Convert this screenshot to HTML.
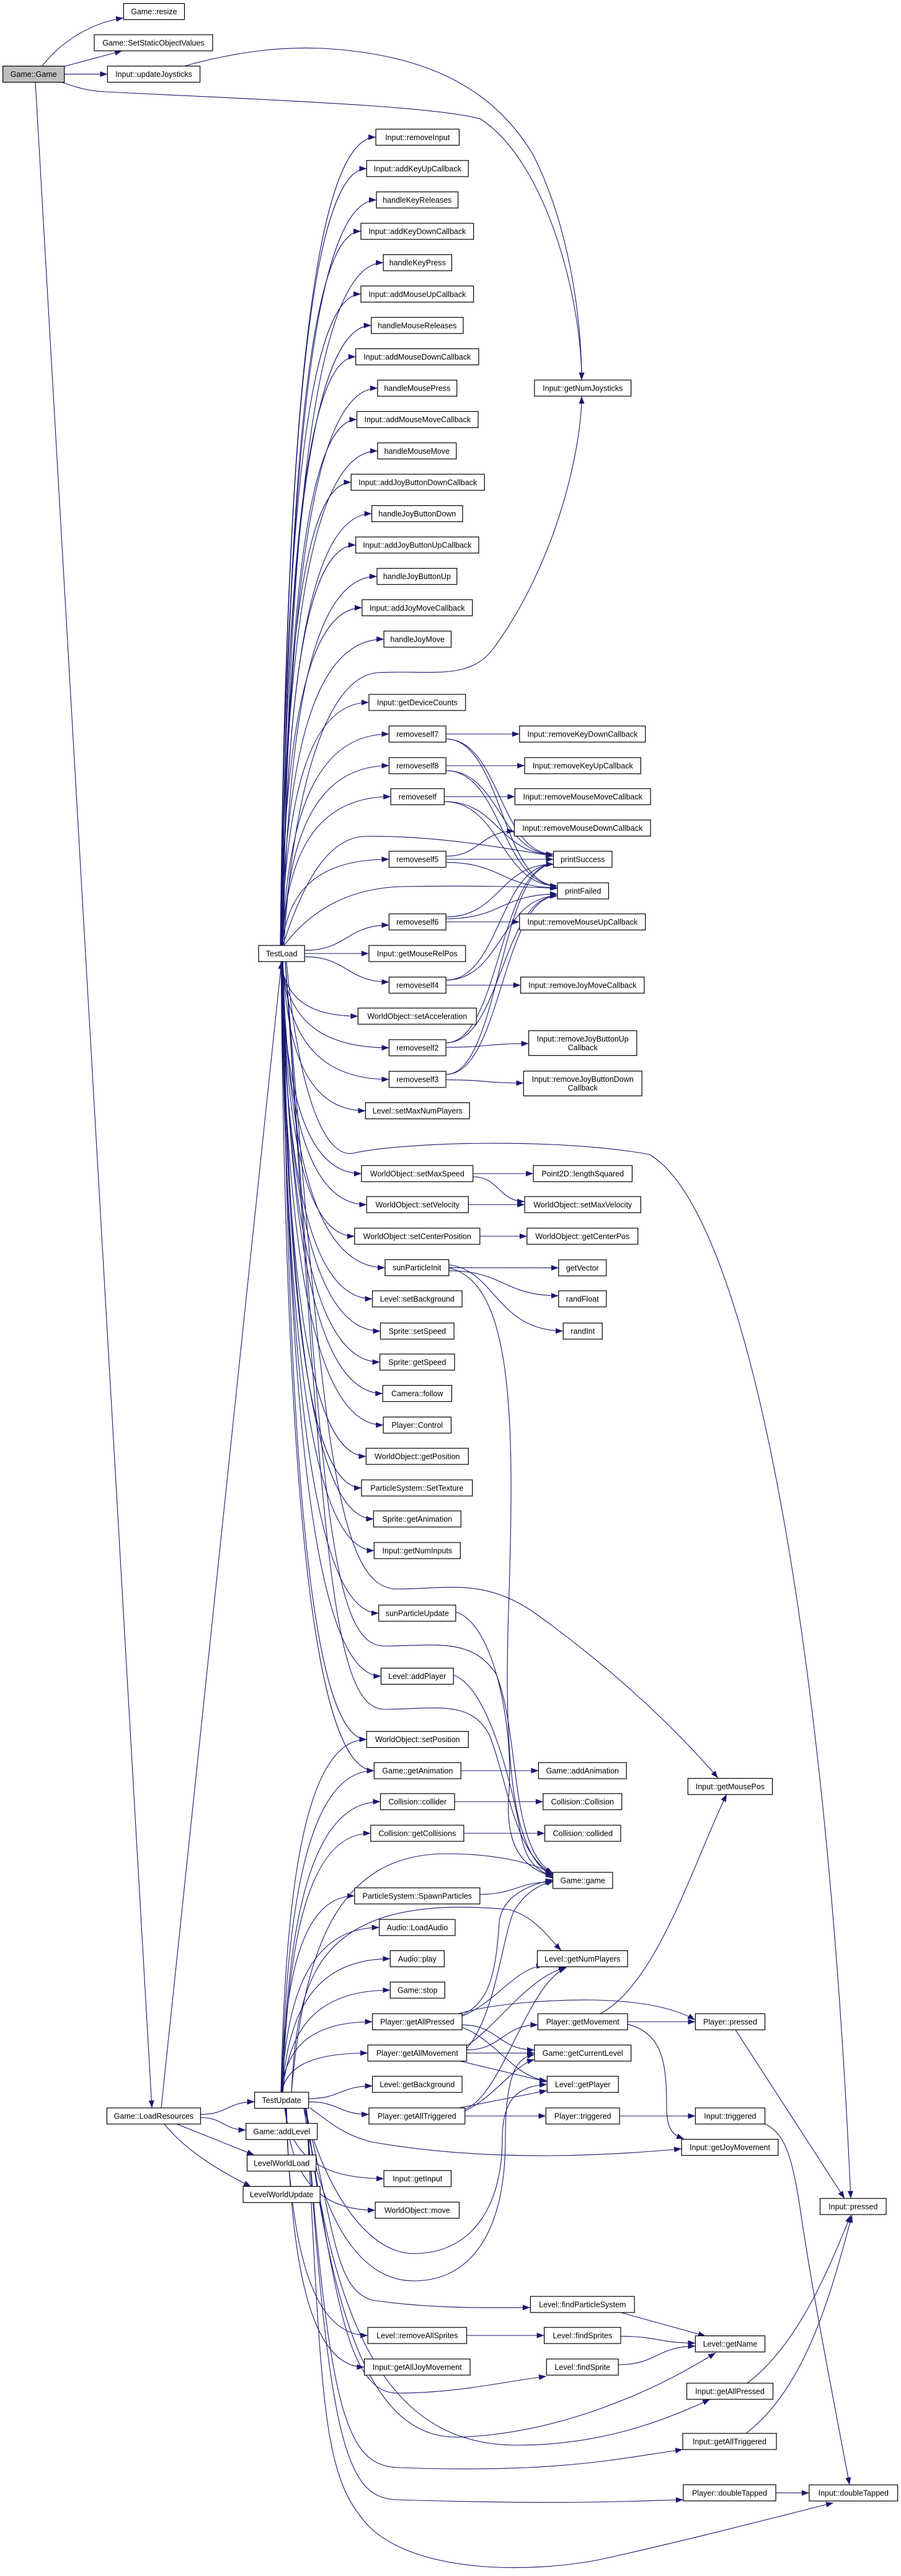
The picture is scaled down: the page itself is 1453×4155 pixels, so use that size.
<!DOCTYPE html>
<html><head><meta charset="utf-8">
<style>
html,body{margin:0;padding:0;background:#fff;}
svg{display:block;}
text{font-family:"Liberation Sans",sans-serif;font-size:12.5px;fill:#000;}
</style></head>
<body>
<svg id="g" xmlns="http://www.w3.org/2000/svg" width="1453" height="4155" viewBox="0 0 1453 4155">
<defs>
<marker id="a" markerUnits="userSpaceOnUse" markerWidth="12" markerHeight="9" refX="12" refY="4.5" orient="auto">
<path d="M0,0 L12,4.5 L0,9 z" fill="#191970"/>
</marker>
</defs>
<g id="edges" fill="none" stroke="#191970" stroke-width="1.1"></g>
<g id="nodes"></g>
</svg>
<script>
var S=1.079;
var N={};
function node(id,label,zx1,zx2,y,h,fill){
  h=h||26;
  var x1=zx1/S,x2=zx2/S;
  N[id]={x1:x1,x2:x2,y1:y,y2:y+h,cx:(x1+x2)/2,cy:y+h/2,label:label,fill:fill||'#fff'};
}
var col=[['Input::removeInput',654,799],['Input::addKeyUpCallback',638,815],['handleKeyReleases',655,797],['Input::addKeyDownCallback',628,824],['handleKeyPress',667,786],['Input::addMouseUpCallback',628,824],['handleMouseReleases',646,806],['Input::addMouseDownCallback',619,833],['handleMousePress',657,795],['Input::addMouseMoveCallback',621,832],['handleMouseMove',657,794],['Input::addJoyButtonDownCallback',611,843],['handleJoyButtonDown',647,805],['Input::addJoyButtonUpCallback',619,833],['handleJoyButtonUp',656,795],['Input::addJoyMoveCallback',630,822],['handleJoyMove',668,785]];
col.forEach(function(c,i){node('c'+i,c[0],c[1],c[2],208.3+50.6*i);});
var L=[
['GG','Game::Game',5,112,106.6,0,'#bfbfbf'],
['resize','Game::resize',215,321,5.6],
['SSOV','Game::SetStaticObjectValues',164,370,56],
['UJ','Input::updateJoysticks',187,348,106.6],
['GNJ','Input::getNumJoysticks',930,1098,613],
['GDC','Input::getDeviceCounts',642,810,1120],
['rs7','removeself7',677,776,1171],
['rs8','removeself8',677,776,1222],
['rs','removeself',680,773,1272],
['RKD','Input::removeKeyDownCallback',904,1123,1171],
['RKU','Input::removeKeyUpCallback',913,1115,1222],
['RMM','Input::removeMouseMoveCallback',896,1132,1272],
['RMD','Input::removeMouseDownCallback',895,1132,1322.6],
['PS','printSuccess',963,1065,1373],
['rs5','removeself5',677,776,1373],
['PF','printFailed',970,1059,1424],
['rs6','removeself6',677,776,1474],
['RMU','Input::removeMouseUpCallback',904,1123,1474],
['TL','TestLoad',450,530,1525],
['GMRP','Input::getMouseRelPos',642,810,1525],
['rs4','removeself4',677,776,1576],
['RJM','Input::removeJoyMoveCallback',906,1121,1576],
['SA','WorldObject::setAcceleration',623,829,1626],
['rs2','removeself2',677,776,1677],
['RJBU','Input::removeJoyButtonUp|Callback',920,1108,1662.5,40],
['rs3','removeself3',677,776,1728],
['RJBD','Input::removeJoyButtonDown|Callback',911,1117,1727.6,40],
['SMNP','Level::setMaxNumPlayers',636,817,1778.6],
['SMS','WorldObject::setMaxSpeed',629,823,1880],
['LS','Point2D::lengthSquared',928,1100,1880],
['SV','WorldObject::setVelocity',638,815,1930],
['SMV','WorldObject::setMaxVelocity',913,1115,1930],
['SCP','WorldObject::setCenterPosition',617,835,1981],
['GCP','WorldObject::getCenterPos',917,1110,1981],
['SPI','sunParticleInit',670,781,2031.7],
['GV','getVector',972,1055,2032],
['SB','Level::setBackground',648,804,2082],
['RF','randFloat',972,1055,2082],
['RI','randInt',980,1048,2134],
['SSp','Sprite::setSpeed',662,790,2134],
['SGS','Sprite::getSpeed',661,791,2184],
['CF','Camera::follow',666,786,2234.6],
['PC','Player::Control',667,785,2285.6],
['WGP','WorldObject::getPosition',637,815,2336],
['PST','ParticleSystem::SetTexture',629,822,2387],
['SGA','Sprite::getAnimation',650,802,2437],
['GNI','Input::getNumInputs',651,801,2488],
['SPU','sunParticleUpdate',659,793,2589],
['LAP','Level::addPlayer',663,789,2690.6],
['WSP','WorldObject::setPosition',638,815,2792.6],
['GGA','Game::getAnimation',651,802,2843],
['GAA','Game::addAnimation',937,1090,2843],
['GMP','Input::getMousePos',1197,1344,2868.5],
['CC','Collision::collider',662,791,2893],
['CCo','Collision::Collision',945,1082,2893],
['CGC','Collision::getCollisions',645,807,2944],
['CCd','Collision::collided',948,1080,2944],
['GAME','Game::game',962,1066,3020],
['PSS','ParticleSystem::SpawnParticles',617,835,3045],
['ALA','Audio::LoadAudio',660,792,3096],
['AP','Audio::play',679,773,3146.4],
['GS','Game::stop',679,774,3197],
['LGNP','Level::getNumPlayers',935,1092,3146.4],
['PGAP','Player::getAllPressed',648,804,3248],
['PGM','Player::getMovement',936,1092,3248],
['PP','Player::pressed',1210,1331,3248],
['PGAM','Player::getAllMovement',640,812,3298.5],
['GCL','Game::getCurrentLevel',930,1098,3298.5],
['LGB','Level::getBackground',648,804,3349],
['LGP','Level::getPlayer',952,1076,3349],
['TU','TestUpdate',443,537,3374.6],
['GLR','Game::LoadResources',186,349,3400],
['PGAT','Player::getAllTriggered',642,809,3400],
['PT','Player::triggered',950,1078,3400],
['IT','Input::triggered',1210,1331,3400],
['GAL','Game::addLevel',428,552,3425],
['IGJM','Input::getJoyMovement',1186,1354,3450.6],
['LWL','LevelWorldLoad',430,550,3476],
['IGI','Input::getInput',668,785,3501],
['IP','Input::pressed',1427,1542,3546],
['LWU','LevelWorldUpdate',423,557,3526.6],
['WOM','WorldObject::move',653,799,3552],
['LFPS','Level::findParticleSystem',923,1104,3704],
['LRAS','Level::removeAllSprites',640,812,3754],
['LFSs','Level::findSprites',947,1080,3754],
['LGN','Level::getName',1210,1331,3767.6],
['IGAJM','Input::getAllJoyMovement',634,818,3805],
['LFS','Level::findSprite',951,1076,3805],
['IGAP','Input::getAllPressed',1195,1345,3844],
['IGAT','Input::getAllTriggered',1188,1351,3925],
['PDT','Player::doubleTapped',1189,1350,4007.8],
['IDT','Input::doubleTapped',1408,1562,4008]
];
L.forEach(function(r){node(r[0],r[1],r[2],r[3],r[4],r[5],r[6]);});

var E=document.getElementById('edges');
function P(d){var p=document.createElementNS('http://www.w3.org/2000/svg','path');p.setAttribute('d',d);p.setAttribute('marker-end','url(#a)');E.appendChild(p);}
function h(a,b){a=N[a];b=N[b];
  var sx=a.x2,tx=b.x1,sy=a.cy,ty=b.cy;
  var dy=ty-sy;sy+=Math.max(-8,Math.min(8,dy*0.1));ty-=Math.max(-8,Math.min(8,dy*0.1));
  var d=(tx-sx)/2;
  P('M'+sx+','+sy+' C'+(sx+d)+','+sy+' '+(tx-d)+','+ty+' '+tx+','+ty);}
function v(a,b,off){a=N[a];b=N[b];off=off||0;
  var tx=b.x1,ty=b.cy;var sx=a.cx+off;var sy=ty<a.cy?a.y1:a.y2;var dx=tx-sx;
  P('M'+sx+','+sy+' C'+(sx+0.05*dx)+','+(sy+0.6*(ty-sy))+' '+(sx+0.3*dx)+','+ty+' '+tx+','+ty);}
P('M68,106.6 C100,65 150,36 199,29');
P('M104,107 L197,82');
h('GG','UJ');
P('M98,132 C125,142 145,147 170,148 C400,160 700,170 775,192 C880,260 938,480 938,613');
P('M296,107 C400,78 470,76 520,78 C700,88 800,150 860,250 C920,370 938,520 938,613');
P('M57,132 L245,3400');
for(var i=0;i<17;i++){v('TL','c'+i,(i%5)-2);}
['GDC','rs7','rs8','rs','rs5'].forEach(function(k,i){v('TL',k,i%3);});
h('TL','rs6');h('TL','GMRP');h('TL','rs4');
['SA','rs2','rs3','SMNP','SMS','SV','SCP','SPI','SB','SSp','SGS','CF','PC','WGP','PST','SGA','GNI','SPU','LAP','WSP','GGA'].forEach(function(k,i){v('TL',k,(i%4)-1);});
P('M458,1525 C470,1300 520,1090 610,1085 C700,1080 760,1100 800,1040 C900,900 938,720 938,639');
P('M456,1525 C490,1420 530,1350 590,1349 C700,1348 800,1365 892,1381');
P('M458,1525 C500,1470 560,1432 650,1430 C750,1428 850,1430 899,1433');
P('M462,1551 C480,1750 520,1870 570,1860 C650,1842 900,1835 1047,1862 C1200,1950 1330,2600 1372,3546');
P('M460,1551 C520,2300 540,2563 640,2563 C720,2563 780,2545 860,2600 C1000,2700 1100,2800 1158,2868');
P('M460,1551 C520,2400 530,2655 620,2655 C700,2655 760,2640 800,2700 C840,2800 820,2980 892,3022');
P('M460,1551 C520,2450 530,2757 620,2757 C700,2757 760,2740 790,2800 C820,2880 830,2990 892,3024');
function rsE(s,t){h(s,t);h(s,'PS');h(s,'PF');}
rsE('rs7','RKD');rsE('rs8','RKU');rsE('rs','RMM');rsE('rs5','RMD');rsE('rs6','RMU');rsE('rs4','RJM');rsE('rs2','RJBU');rsE('rs3','RJBD');
h('SMS','LS');h('SMS','SMV');h('SV','SMV');h('SCP','GCP');
h('SPI','GV');h('SPI','RF');
P('M724,2040 C800,2050 800,2145 908,2147');
P('M724,2045 C830,2070 830,2300 820,2600 C810,2900 840,3000 892,3026');
P('M735,2600 C800,2620 830,2800 820,2900 C815,3000 860,3015 892,3028');
P('M731,2702 C790,2720 830,2900 840,2960 C850,3010 870,3015 892,3030');
h('GGA','GAA');h('CC','CCo');h('CGC','CCd');h('PSS','GAME');
P('M260,3400 L454,1551');
h('GLR','TU');h('GLR','GAL');
P('M285,3426 L410,3476');P('M265,3426 C300,3470 360,3505 405,3527');
['WSP','GGA','CC','CGC','PSS','ALA','AP','GS','PGAP','PGAM'].forEach(function(k,i){v('TU',k,(i%4)-1);});
P('M470,3374 C490,3150 540,2990 720,2990 C800,2990 860,3005 891,3022');
h('TU','LGB');h('TU','PGAT');
P('M500,3400 C540,3430 560,3445 600,3455 C800,3490 1000,3475 1099,3466');
v('TU','IGI',5);v('TU','WOM',6);v('TU','LRAS',7);v('TU','IGAJM',8);
P('M490,3400 C530,3550 600,3635 667,3635 C760,3635 810,3560 810,3450 C810,3380 840,3365 882,3362');
P('M490,3400 C520,3600 590,3679 667,3679 C760,3679 815,3600 815,3450 C815,3330 840,3318 862,3314');
P('M492,3400 C540,3600 540,3692 600,3710 C700,3725 800,3722 855,3722');
P('M492,3400 C540,3700 560,3860 640,3860 C740,3860 820,3840 881,3833');
P('M494,3400 C540,3800 620,3935 741,3931 C900,3925 1050,3860 1154,3795');
P('M494,3400 C540,3800 650,3944 834,3944 C960,3944 1060,3910 1145,3870');
P('M494,3400 C530,3900 560,3975 640,3980 C900,3990 1000,3965 1101,3951');
P('M494,3400 C530,3950 560,4029 640,4032 C900,4040 1000,4035 1102,4032');
P('M494,3400 C520,3900 520,4000 600,4080 C680,4150 850,4150 960,4130 C1100,4100 1250,4060 1344,4037');
P('M470,3374 C480,3200 500,3050 820,3080 C860,3090 880,3120 905,3146');
P('M745,3252 C800,3230 830,3175 877,3170');
P('M740,3248 C800,3230 900,3225 960,3226 C1040,3228 1090,3240 1121,3258');
h('PGAP','GCL');P('M745,3270 C800,3290 830,3352 882,3356');
P('M745,3250 C790,3230 800,3180 805,3100 C810,3060 850,3040 892,3032');
P('M752,3300 C800,3270 850,3190 913,3173');h('PGAM','PGM');h('PGAM','GCL');P('M740,3324 L882,3358');
P('M752,3305 C800,3250 810,3120 830,3080 C850,3050 870,3040 893,3034');
P('M750,3402 C810,3380 850,3200 913,3174');P('M740,3400 L882,3372');h('PGAT','PT');P('M750,3405 C800,3380 830,3330 862,3322');
h('PGM','PP');P('M1012,3265 C1070,3280 1075,3330 1075,3400 C1075,3440 1090,3445 1103,3450');
P('M968,3248 C1060,3200 1120,3000 1172,2894');
P('M1186,3274 L1362,3546');
h('PT','IT');P('M1233,3425 C1260,3440 1275,3460 1290,3560 C1310,3700 1350,3900 1370,4008');
P('M1001,3730 L1138,3768');h('LRAS','LFSs');h('LFSs','LGN');h('LFS','LGN');
P('M1205,3844 C1290,3780 1340,3650 1372,3573');
P('M1203,3925 C1300,3850 1340,3700 1374,3573');
h('PDT','IDT');
var G=document.getElementById('nodes');var ns='http://www.w3.org/2000/svg';
for(var k in N){var n=N[k];
  var r=document.createElementNS(ns,'rect');
  r.setAttribute('x',n.x1);r.setAttribute('y',n.y1);r.setAttribute('width',n.x2-n.x1);r.setAttribute('height',n.y2-n.y1);
  r.setAttribute('fill',n.fill);r.setAttribute('stroke','#000');r.setAttribute('stroke-width','1.2');G.appendChild(r);
  var lines=n.label.split('|');
  lines.forEach(function(s,j){var t=document.createElementNS(ns,'text');
    t.setAttribute('x',n.cx);t.setAttribute('text-anchor','middle');
    var y=n.cy+4.5+(j-(lines.length-1)/2)*14;t.setAttribute('y',y);t.textContent=s;G.appendChild(t);});
}
</script>
</body></html>
